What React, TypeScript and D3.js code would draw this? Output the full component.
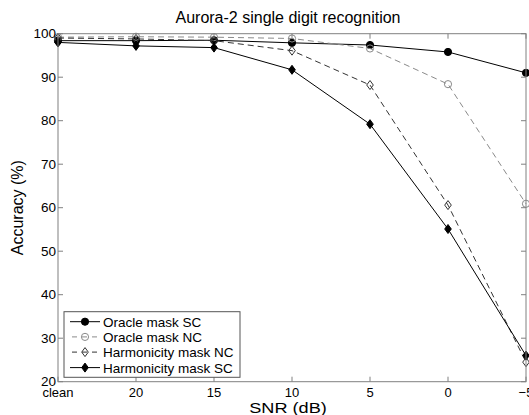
import React from "react";
import * as d3 from "d3";

const categories = ["clean", "20", "15", "10", "5", "0", "-5"];
const yTicks = [20, 30, 40, 50, 60, 70, 80, 90, 100];
const oracleSC = [98.4, 98.4, 98.5, 97.9, 97.4, 95.8, 91.0];
const oracleNC = [99.2, 99.3, 99.2, 98.9, 96.6, 88.4, 60.9];
const harmNC = [99.0, 98.8, 98.4, 96.1, 88.2, 60.6, 24.5];
const harmSC = [98.0, 97.2, 96.8, 91.7, 79.2, 55.1, 26.0];

const W = 529, H = 415;
const L = 58, R = 526, T = 33.7, B = 381.7;

const x = d3.scaleLinear().domain([0, categories.length - 1]).range([L, R]);
const y = d3.scaleLinear().domain([20, 100]).range([B, T]);

const series = [
  { name: "Oracle mask SC", data: oracleSC, color: "#000", dash: "", marker: "circle", fill: "#000" },
  { name: "Oracle mask NC", data: oracleNC, color: "#8a8a8a", dash: "6,4", marker: "circle", fill: "none" },
  { name: "Harmonicity mask NC", data: harmNC, color: "#333", dash: "6,4", marker: "diamond", fill: "none" },
  { name: "Harmonicity mask SC", data: harmSC, color: "#000", dash: "", marker: "diamond", fill: "#000" },
];

function Marker({ type, cx, cy, color, fill }: any) {
  if (type === "circle") {
    return <circle cx={cx} cy={cy} r={3.6} fill={fill} stroke={color} strokeWidth={1} />;
  }
  const d = `M${cx},${cy - 4.5}L${cx + 3.3},${cy}L${cx},${cy + 4.5}L${cx - 3.3},${cy}Z`;
  return <path d={d} fill={fill} stroke={color} strokeWidth={1} />;
}

export default function App() {
  const line = d3.line<number>().x((_, i) => x(i)).y((v) => y(v));
  const axisColor = "#808080";
  const font = "Arial, 'Liberation Sans', sans-serif";
  const legX = 64, legY = 311.7, legW = 176, legH = 65.6;
  const rowY = [321.7, 336.9, 352.1, 367.6];
  return (
    <svg width={W} height={H} style={{ position: "absolute", left: 0, top: 0, background: "#fff" }} fontFamily={font}>
      <rect x={0} y={0} width={W} height={H} fill="#fff" />
      <text x={288} y={23} textAnchor="middle" fontSize={16}>Aurora-2 single digit recognition</text>
      {series.map((s) => (
        <g key={s.name}>
          <path d={line(s.data) || ""} fill="none" stroke={s.color} strokeWidth={1} strokeDasharray={s.dash} />
          {s.data.map((v, i) => (
            <Marker key={i} type={s.marker} cx={x(i)} cy={y(v)} color={s.color} fill={s.fill} />
          ))}
        </g>
      ))}
      <rect x={L} y={T} width={R - L} height={B - T} fill="none" stroke={axisColor} strokeWidth={1} />
      {categories.map((c, i) => (
        <g key={c}>
          <line x1={x(i)} x2={x(i)} y1={B} y2={B - 5} stroke={axisColor} />
          <line x1={x(i)} x2={x(i)} y1={T} y2={T + 5} stroke={axisColor} />
          <text x={x(i)} y={397.3} textAnchor="middle" fontSize={13}>{c === "-5" ? "\u22125" : c}</text>
        </g>
      ))}
      {yTicks.map((t) => (
        <g key={t}>
          <line x1={L} x2={L + 5} y1={y(t)} y2={y(t)} stroke={axisColor} />
          <line x1={R} x2={R - 5} y1={y(t)} y2={y(t)} stroke={axisColor} />
          <text x={56} y={y(t) + 4.7} textAnchor="end" fontSize={13.5}>{t}</text>
        </g>
      ))}
      <text transform="translate(288,412.5) scale(1.25,1)" textAnchor="middle" fontSize={14.5}>SNR (dB)</text>
      <text transform={`translate(23,${(T + B) / 2}) rotate(-90)`} textAnchor="middle" fontSize={16}>Accuracy (%)</text>
      <rect x={legX} y={legY} width={legW} height={legH} fill="#fff" stroke="#555" strokeWidth={1} />
      {series.map((s, i) => (
        <g key={s.name}>
          <line x1={70} x2={100} y1={rowY[i]} y2={rowY[i]} stroke={s.color} strokeDasharray={s.dash ? "5,5" : ""} strokeDashoffset={-2} />
          <Marker type={s.marker} cx={85} cy={rowY[i]} color={s.color} fill={s.fill} />
          <text x={103} y={rowY[i] + 5} fontSize={13.5}>{s.name}</text>
        </g>
      ))}
    </svg>
  );
}
